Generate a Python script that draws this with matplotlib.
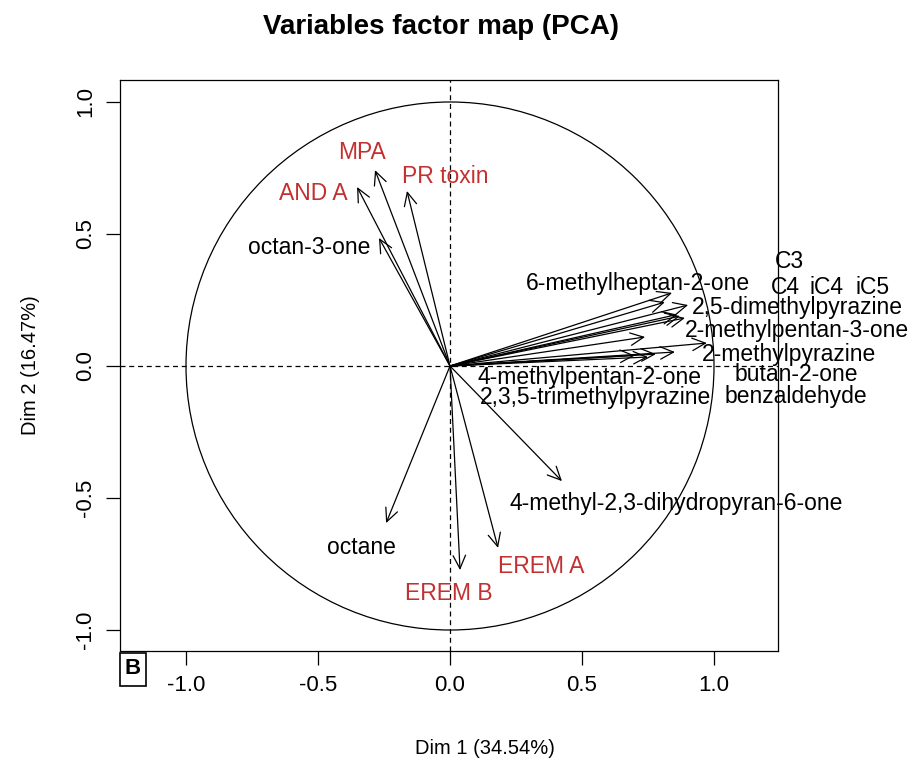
import numpy as np
import matplotlib.pyplot as plt
from matplotlib.patches import Rectangle, Circle

plt.rcParams['font.family'] = ['Liberation Sans', 'DejaVu Sans']

# variable names, arrow tips (Dim 1, Dim 2) and label positions
names = ['MPA', 'AND A', 'PR toxin', 'octan-3-one', 'octane', 'EREM B', 'EREM A',
         '4-methyl-2,3-dihydropyran-6-one',
         '6-methylheptan-2-one', 'C3', 'C4', 'iC4', 'iC5',
         '2,5-dimethylpyrazine', '2-methylpentan-3-one', '2-methylpyrazine',
         'butan-2-one', 'benzaldehyde', '4-methylpentan-2-one', '2,3,5-trimethylpyrazine']
dim1 = [-0.284, -0.352, -0.163, -0.269, -0.242, 0.038, 0.182, 0.424,
        0.841, 0.814, 0.871, 0.890, 0.860,
        0.902, 0.973, 0.852, 0.739, 0.750, 0.780, 0.700]
dim2 = [0.742, 0.678, 0.663, 0.485, -0.595, -0.773, -0.689, -0.436,
        0.277, 0.242, 0.189, 0.182, 0.195,
        0.231, 0.087, 0.053, 0.110, 0.034, 0.045, 0.040]
lab_x = [-0.333, -0.519, -0.019, -0.534, -0.337, -0.004, 0.345, 0.856,
         0.712, 1.284, 1.270, 1.425, 1.600,
         1.314, 1.314, 1.284, 1.311, 1.311, 0.530, 0.553]
lab_y = [0.807, 0.652, 0.716, 0.447, -0.689, -0.860, -0.758, -0.519,
         0.314, 0.394, 0.299, 0.299, 0.299,
         0.223, 0.136, 0.045, -0.034, -0.114, -0.045, -0.121]
red_vars = ['MPA', 'AND A', 'PR toxin', 'EREM A', 'EREM B']

ticks = [-1.0, -0.5, 0.0, 0.5, 1.0]
tick_labels = ['-1.0', '-0.5', '0.0', '0.5', '1.0']

W, H = 917, 773
fig = plt.figure(figsize=(W / 100, H / 100), dpi=100)
ax = fig.add_axes([120 / W, 1 - 651 / H, 658 / W, 571 / H])
ax.set_xlim(-1.25, 1.2424)
ax.set_ylim(-1.0795, 1.0833)

# unit circle and dashed axes
ax.add_patch(Circle((0, 0), 1.0, fill=False, color='black', lw=0.9))
ax.axhline(0, color='black', lw=0.9, ls=(0, (4, 3)))
ax.axvline(0, color='black', lw=0.9, ls=(0, (4, 3)))

for n, x, y, lx, ly in zip(names, dim1, dim2, lab_x, lab_y):
    ax.annotate('', xy=(x, y), xytext=(0, 0),
                arrowprops=dict(arrowstyle='->,head_length=0.95,head_width=0.45',
                                mutation_scale=10, lw=0.9, color='black',
                                shrinkA=0, shrinkB=0))
    col = '#C42F2F' if n in red_vars else 'black'
    ax.text(lx, ly, n, color=col, fontsize=16.5, ha='center', va='center',
            clip_on=False)

ax.set_xticks(ticks)
ax.set_xticklabels(tick_labels)
ax.set_yticks(ticks)
ax.set_yticklabels(tick_labels, rotation=90, va='center')
ax.tick_params(direction='out', length=10, width=0.9, labelsize=16, pad=7,
               colors='black')
for s in ax.spines.values():
    s.set_linewidth(0.9)

fig.text(441 / W, 1 - 27 / H, 'Variables factor map (PCA)', fontsize=20,
         fontweight='bold', ha='center', va='center')
fig.text(485 / W, 1 - 748 / H, 'Dim 1 (34.54%)', fontsize=14.5,
         ha='center', va='center')
fig.text(30 / W, 1 - 365 / H, 'Dim 2 (16.47%)', fontsize=14.5,
         ha='center', va='center', rotation=90)

# panel letter box
fig.add_artist(Rectangle((120 / W, 1 - 686 / H), 26 / W, 33 / H,
                         transform=fig.transFigure, fill=False,
                         edgecolor='black', lw=1.2))
fig.text(133 / W, 1 - 669 / H, 'B', fontsize=16, fontweight='bold',
         ha='center', va='center')

fig.savefig('out.png', dpi=100)
